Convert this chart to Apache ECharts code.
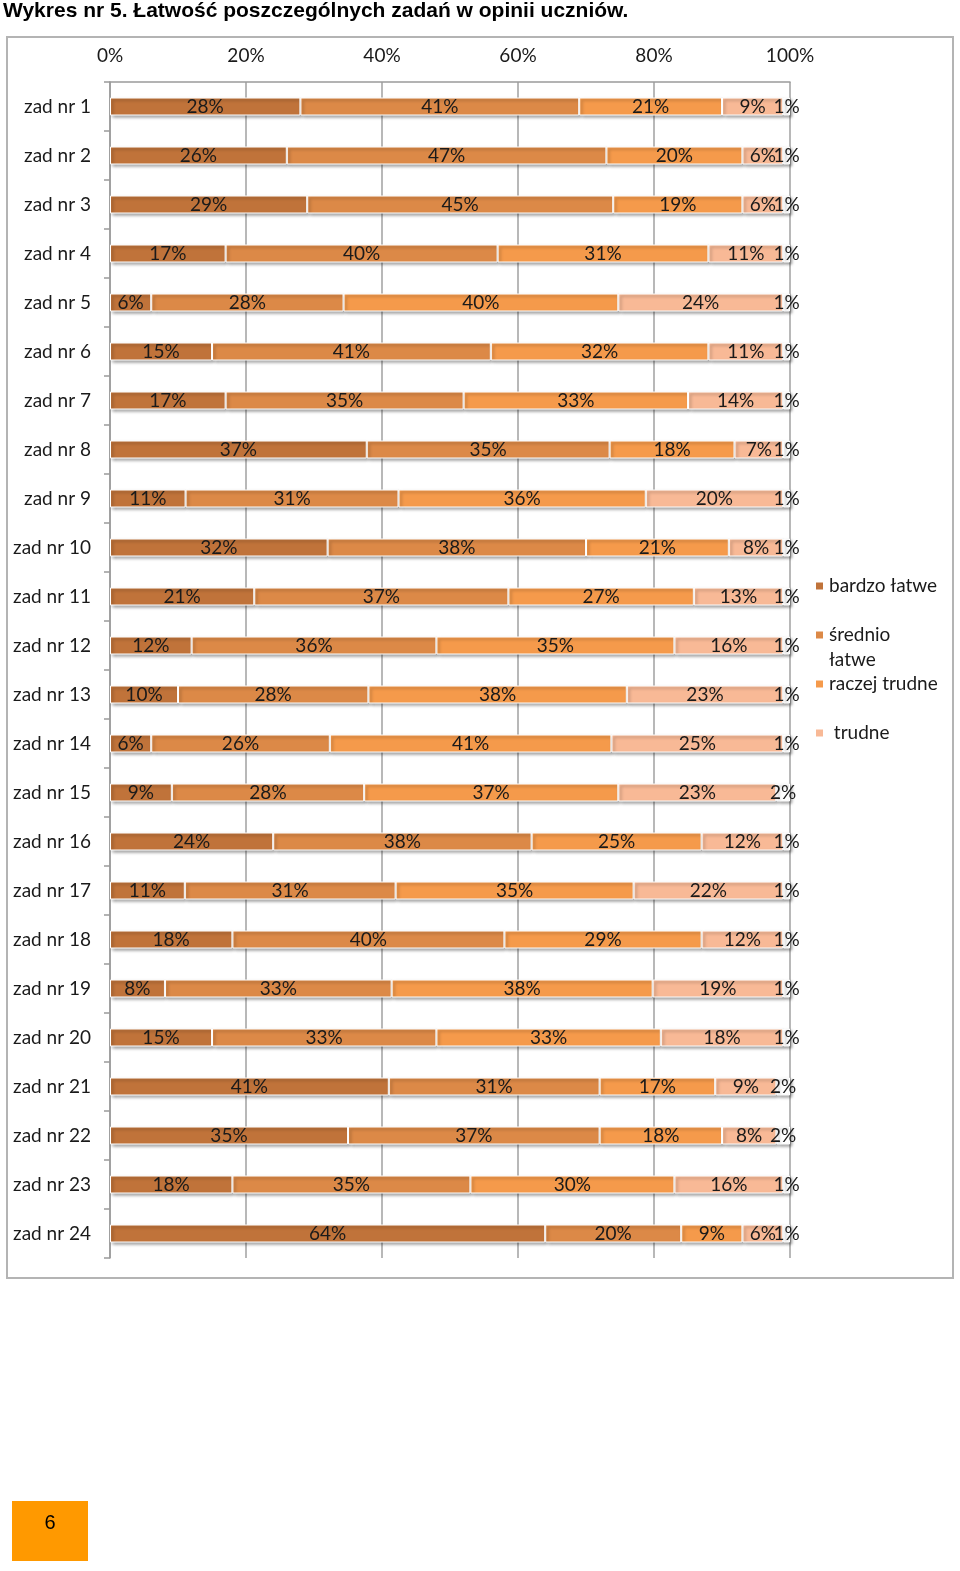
<!DOCTYPE html>
<html>
<head>
<meta charset="utf-8">
<script src="https://cdn.jsdelivr.net/npm/echarts@6/dist/echarts.min.js"></script>
<style>
html,body{margin:0;padding:0;background:#fff;}
#c{width:960px;height:1571px;}
</style>
</head>
<body>
<div id="c"></div>
<script>
var categories = ['zad nr 1','zad nr 2','zad nr 3','zad nr 4','zad nr 5','zad nr 6','zad nr 7','zad nr 8','zad nr 9','zad nr 10','zad nr 11','zad nr 12','zad nr 13','zad nr 14','zad nr 15','zad nr 16','zad nr 17','zad nr 18','zad nr 19','zad nr 20','zad nr 21','zad nr 22','zad nr 23','zad nr 24'];
var bardzoLatwe  = [28,26,29,17,6,15,17,37,11,32,21,12,10,6,9,24,11,18,8,15,41,35,18,64];
var srednioLatwe = [41,47,45,40,28,41,35,35,31,38,37,36,28,26,28,38,31,40,33,33,31,37,35,20];
var raczejTrudne = [21,20,19,31,40,32,33,18,36,21,27,35,38,41,37,25,35,29,38,33,17,18,30,9];
var trudne       = [9,6,6,11,24,11,14,7,20,8,13,16,23,25,23,12,22,12,19,18,9,8,16,6];
var bardzoTrudne = [1,1,1,1,1,1,1,1,1,1,1,1,1,1,2,1,1,1,1,1,2,2,1,1];
var xTicks = [0,20,40,60,80,100];

var seriesDefs = [
  {name:'bardzo łatwe', data:bardzoLatwe, color:'#c0733a'},
  {name:'średnio łatwe', data:srednioLatwe, color:'#dc8947'},
  {name:'raczej trudne', data:raczejTrudne, color:'#f59a4b'},
  {name:'trudne', data:trudne, color:'#f8b996'},
  {name:'bardzo trudne', data:bardzoTrudne, color:'#ffffff'}
];
var totals = categories.map(function(_, i){
  var s = 0; seriesDefs.forEach(function(d){ s += d.data[i]; }); return s;
});
var FONT = 'Lato, "Open Sans", sans-serif';

var series = seriesDefs.map(function(d){
  return {
    name: d.name,
    type: 'bar',
    stack: 'all',
    barWidth: 18,
    data: d.data.map(function(v, i){ return {value: v / totals[i] * 100, raw: v}; }),
    itemStyle: {
      color: d.color,
      borderColor: '#ffffff',
      borderWidth: 1,
      shadowColor: 'rgba(0,0,0,0.35)',
      shadowBlur: 3,
      shadowOffsetX: 2,
      shadowOffsetY: 2
    },
    label: {
      show: true,
      position: 'inside',
      formatter: function(p){ return p.data.raw + '%'; },
      fontFamily: FONT,
      fontSize: 19,
      color: '#1a1a1a'
    },
    emphasis: {disabled: true}
  };
});

function legendAt(name, top, fmt){
  return {
    data: [name],
    left: 814,
    top: top,
    padding: 0,
    orient: 'vertical',
    icon: 'rect',
    itemWidth: 9,
    itemHeight: 9,
    itemGap: 0,
    selectedMode: false,
    formatter: fmt || '{name}',
    textStyle: {fontFamily: FONT, fontSize: 19, color: '#1a1a1a', lineHeight: 25}
  };
}

var chart = echarts.init(document.getElementById('c'), null, {renderer: 'canvas'});
chart.setOption({
  animation: false,
  backgroundColor: '#ffffff',
  grid: {left: 110, right: 170, top: 82, height: 1176, containLabel: false},
  legend: [
    legendAt('bardzo łatwe', 573.5),
    legendAt('średnio łatwe', 597.5, '\nśrednio\nłatwe'),
    legendAt('raczej trudne', 671.5),
    legendAt('trudne', 720.5, ' {name}')
  ],
  xAxis: {
    type: 'value',
    position: 'top',
    min: 0,
    max: 100,
    interval: 20,
    axisLine: {show: true, lineStyle: {color: '#9a9a9a', width: 1.5}},
    axisTick: {show: false},
    splitLine: {show: true, lineStyle: {color: '#a0a0a0', width: 1.5}},
    axisLabel: {
      formatter: function(v){ return xTicks.indexOf(v) >= 0 ? v + '%' : ''; },
      fontFamily: FONT, fontSize: 19, color: '#1a1a1a', margin: 17
    }
  },
  yAxis: {
    type: 'category',
    inverse: true,
    data: categories,
    axisLine: {show: true, lineStyle: {color: '#9a9a9a', width: 1.5}},
    axisTick: {show: true, length: 6, lineStyle: {color: '#9a9a9a', width: 1.5}},
    axisLabel: {fontFamily: FONT, fontSize: 19, color: '#1a1a1a', margin: 19}
  },
  series: series,
  graphic: [
    {type: 'text', left: 3, top: 1, style: {text: 'Wykres nr 5. Łatwość poszczególnych zadań w opinii uczniów.', fontFamily: '"Liberation Sans", Arial, sans-serif', fontWeight: 'bold', fontSize: 21, fill: '#000'}},
    {type: 'rect', shape: {x: 7, y: 37, width: 946, height: 1241}, style: {fill: 'none', stroke: '#b4b4b4', lineWidth: 2}, z: -1},
    {type: 'rect', shape: {x: 12, y: 1501, width: 76, height: 60}, style: {fill: '#ff9900'}},
    {type: 'text', x: 50, y: 1523, style: {text: '6', fontFamily: '"Liberation Sans", Arial, sans-serif', fontSize: 20, fill: '#000', align: 'center', verticalAlign: 'middle'}}
  ]
});
</script>
</body>
</html>
